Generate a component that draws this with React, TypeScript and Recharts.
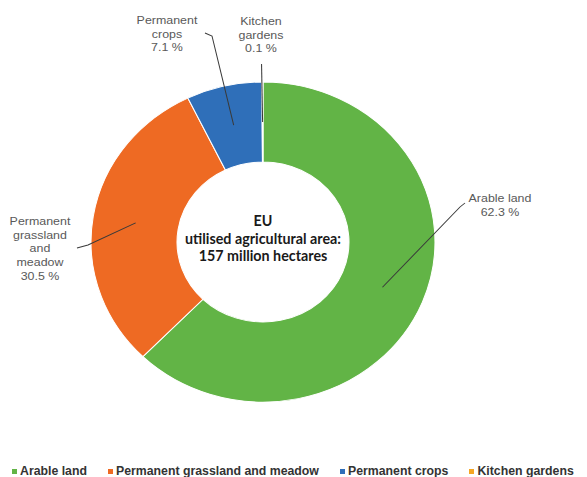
import React from 'react';
import { PieChart, Pie, Cell } from 'recharts';

const CATEGORIES = ['Arable land', 'Permanent grassland and meadow', 'Permanent crops', 'Kitchen gardens'];
const SHARES = [62.3, 30.5, 7.1, 0.1];
const COLORS = ['#62b446', '#ee6a23', '#2f6fb9', '#f5a623'];

const CENTER_LINES = ['EU', 'utilised agricultural area:', '157 million hectares'];

const data = CATEGORIES.map((name, i) => ({ name, value: SHARES[i] }));

// label placement, screen offsets from the pie centre
const LAYOUT: Record<number, { tx: number; ty: number; wrap: boolean; path: [number, number][] }> = {
  0: { tx: 237, ty: -44, wrap: false, path: [[197, -35], [202, -39]] },
  1: { tx: -223, ty: -21, wrap: true, path: [[-175, 3], [-186, 6]] },
  2: { tx: -96, ty: -222, wrap: true, path: [[-51, -206], [-58, -209]] },
  3: { tx: -2, ty: -221, wrap: true, path: [[-1, -178]] },
};

const RAD = Math.PI / 180;
const CX = 263, CY = 242;
// the original picture is slightly stretched sideways
const SX = 1.036, SY = 0.964;
const FONT = "'Liberation Sans', Arial, sans-serif";

const renderLabel = (p: any) => {
  const { cx, cy, midAngle, innerRadius, outerRadius, index, name, value } = p;
  const L = LAYOUT[index];
  if (!L) return null;
  const r = (innerRadius + outerRadius) / 2;
  const ax = cx + r * Math.cos(-midAngle * RAD);
  const ay = cy + r * Math.sin(-midAngle * RAD);
  const pts = [[ax, ay], ...L.path.map(([dx, dy]) => [cx + dx / SX, cy + dy / SY])];
  if (index === 3) pts[1][0] = ax - 1;
  const lines = L.wrap ? String(name).split(' ') : [String(name)];
  lines.push(`${Number(value).toFixed(1)} %`);
  return (
    <g key={`lab-${index}`}>
      <polyline points={pts.map(q => q.join(',')).join(' ')} fill="none" stroke="#3a3a3a" strokeWidth={1} />
      {lines.map((t, k) => (
        <text key={k} x={cx + L.tx / SX} y={cy + (L.ty + k * 13.8) / SY} textAnchor="middle" dominantBaseline="central"
          fill="#595959" fontSize={12} fontFamily={FONT}>{t}</text>
      ))}
    </g>
  );
};

export default function App() {
  return (
    <div style={{ position: 'relative', width: 587, height: 477, background: '#fff', margin: '-8px 0 0 -8px', overflow: 'hidden' }}>
      <div style={{ position: 'absolute', left: 0, top: 0, transform: `scale(${SX}, ${SY})`, transformOrigin: `${CX}px ${CY}px` }}>
        <PieChart width={587} height={477} margin={{ top: 0, right: 0, bottom: 0, left: 0 }}>
          <Pie data={data} dataKey="value" nameKey="name" cx={CX} cy={CY} innerRadius={83} outerRadius={166}
            startAngle={90} endAngle={-270} stroke="#ffffff" strokeWidth={1}
            label={renderLabel} labelLine={false} isAnimationActive={false}>
            {data.map((d, i) => <Cell key={d.name} fill={COLORS[i]} />)}
          </Pie>
        </PieChart>
      </div>
      <div style={{ position: 'absolute', left: CX - 100, top: 212, width: 200, textAlign: 'center', fontFamily: 'Lato, sans-serif', fontWeight: 700, fontSize: 14.3, lineHeight: '17.5px', color: '#1a1a1a' }}>
        {CENTER_LINES.map(t => <div key={t}>{t}</div>)}
      </div>
      <div style={{ position: 'absolute', left: 12, top: 463, display: 'flex', alignItems: 'center', fontFamily: FONT, fontSize: 12.3, fontWeight: 700, color: '#333', whiteSpace: 'nowrap', lineHeight: '16px' }}>
        {CATEGORIES.map((c, i) => (
          <span key={c} style={{ display: 'flex', alignItems: 'center', marginRight: 21 }}>
            <span style={{ width: 5, height: 5, background: COLORS[i], display: 'inline-block', marginRight: 3 }} />
            {c}
          </span>
        ))}
      </div>
    </div>
  );
}
